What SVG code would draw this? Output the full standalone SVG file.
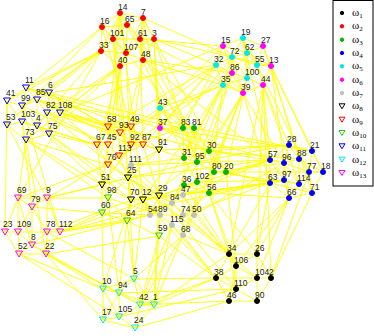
<svg xmlns="http://www.w3.org/2000/svg" xmlns:xlink="http://www.w3.org/1999/xlink" width="374" height="336" viewBox="0 0 374 336">
<style>
.e{fill:none;stroke:#ffff00;stroke-width:0.9}
text{font-family:"Liberation Sans",Arial,sans-serif;font-size:8.5px;fill:#222}
.c1{fill:#000;stroke:#000}
.c2{fill:#ff0000;stroke:#ff0000}
.c3{fill:#00b400;stroke:#00b400}
.c4{fill:#0000ff;stroke:#0000ff}
.c5{fill:#00e8e8;stroke:#00e8e8}
.c6{fill:#ff00ff;stroke:#ff00ff}
.c7{fill:#c0c0c0;stroke:#c0c0c0}
.t8{fill:none;stroke:#000;stroke-width:1}
.t9{fill:none;stroke:#ff0000;stroke-width:1}
.t10{fill:none;stroke:#22c822;stroke-width:1}
.t11{fill:none;stroke:#0000ff;stroke-width:1}
.t12{fill:none;stroke:#00e8e8;stroke-width:1}
.t13{fill:none;stroke:#ff00ff;stroke-width:1}
.lg{font-family:"Liberation Serif","Times New Roman",serif;font-size:11px;fill:#000}
.sub{font-size:7px}
</style>
<defs>
<path id="tri" d="M-3.5,-3L3.5,-3L0,3Z"/>
<path id="tris" d="M-3,-2.5L3,-2.5L0,2.5Z"/>
</defs>
<rect width="374" height="336" fill="#fff"/>
<g id="connectors">
<path class="e" d="M120 13L143 18M120 13L127 25M120 13L102 27M120 13L113 39M120 13L140 39M120 13L126 53M120 13L120 66M143 18L127 25M143 18L140 39M143 18L154 39M143 18L143 60M127 25L113 39M127 25L140 39M127 25L126 53M102 27L113 39M102 27L101 51M102 27L126 53M113 39L101 51M113 39L126 53M113 39L120 66M113 39L140 39M140 39L154 39M140 39L126 53M140 39L143 60M154 39L143 60M154 39L126 53M101 51L120 66M101 51L126 53M126 53L120 66M126 53L143 60M143 60L120 66M102 27L127 25M120 13L101 51M143 18L126 53
M102 27L26 88M101 51L26 88M101 51L49 93M113 39L37 100M120 66L60 113M120 66L47 113M101 51L22 106M120 66L49 134M120 13L108 127M102 27L131 127M113 39L120 133M101 51L7 101M120 66L108 145M126 53L97 145M143 60L131 145M154 39L159 150M140 39L143 145M143 18L160 108M154 39L216 65M143 60L223 85M140 39L223 46M143 18L232 57M143 60L232 73M154 39L160 128M127 25L183 128M120 66L128 178M126 53L209 151M143 60L184 158M120 66L102 185M113 39L131 200M120 13L143 200M154 39L197 162M140 39L214 172M102 27L7 125M101 51L37 126M120 66L26 140M143 60L119 156M126 53L131 165M143 18L226 172M154 39L271 66M140 39L243 93M143 60L270 160M120 66L108 198M101 51L18 198
M223 46L243 38M223 46L232 57M223 46L216 65M223 46L247 53M223 46L232 73M243 38L247 53M243 38L232 57M243 38L263 46M243 38L257 65M247 53L232 57M247 53L263 46M247 53L257 65M247 53L247 78M247 53L271 66M232 57L216 65M232 57L232 73M232 57L257 65M232 57L247 78M232 57L223 85M216 65L232 73M216 65L223 85M216 65L243 93M257 65L263 46M257 65L271 66M257 65L247 78M257 65L263 85M247 78L232 73M247 78L223 85M247 78L243 93M247 78L263 85M232 73L223 85M232 73L243 93M223 85L243 93M263 85L271 66M263 85L243 93M263 46L271 66M243 38L247 78M247 53L232 73M232 57L243 93
M271 66L323 172M271 66L312 151M263 85L271 278M263 85L289 145M263 85L270 160M243 93L270 183M243 93L284 163M271 66L299 159M263 46L312 193M257 65L309 172M263 85L229 254M223 85L209 193M216 65L183 128M223 85L184 158M243 93L209 151M232 73L197 162M247 78L214 172M216 65L160 108M223 85L160 108M216 65L160 128M223 46L160 108M232 57L159 150M216 65L108 127M223 85L131 127M232 73L197 182M243 93L184 185M247 78L226 172M263 85L257 254M216 65L143 145M223 85L159 196M243 93L183 235M271 66L289 198M263 85L299 184M223 85L172 203M216 65L49 93M223 46L60 113M223 85L143 200M243 93L194 215M232 73L131 145M243 38L270 160
M160 108L183 128M160 108L194 128M160 128L183 128M160 108L160 128M160 128L159 150M160 108L131 127M160 128L209 151M160 108L197 162M160 128L284 163M160 108L102 185
M183 128L194 128M183 128L184 158M194 128L209 151M194 128L197 162M209 151L197 162M209 151L214 172M209 151L226 172M184 158L197 162M184 158L197 182M184 158L184 185M197 162L197 182M197 162L214 172M214 172L226 172M214 172L197 182M214 172L209 193M197 182L184 185M197 182L209 193M184 185L209 193M226 172L209 193M183 128L197 162M194 128L184 158M209 151L184 158
M226 172L270 160M226 172L270 183M214 172L284 163M209 151L289 145M209 193L289 198M209 193L229 254M197 182L183 195M184 185L172 203M184 158L159 150M197 162L128 178M197 182L159 196M209 193L183 215M226 172L312 193M209 151L299 159M184 158L131 165M214 172L299 184M197 162L143 200M184 185L183 195M209 193L257 254M194 128L312 151M183 128L131 145M226 172L323 172M209 151L270 160
M289 145L312 151M289 145L284 163M289 145L299 159M289 145L270 160M312 151L299 159M312 151L323 172M312 151L309 172M270 160L284 163M270 160L270 183M270 160L284 180M284 163L299 159M284 163L284 180M284 163L309 172M299 159L309 172M299 159L323 172M299 159L299 184M323 172L309 172M323 172L312 193M309 172L299 184M309 172L312 193M270 183L284 180M270 183L289 198M284 180L299 184M284 180L289 198M299 184L312 193M299 184L289 198M312 193L289 198M284 163L299 184M270 183L284 163
M270 183L229 254M289 198L257 254M289 198L229 254M270 160L159 196M270 183L209 193M289 145L197 162M284 180L197 182M312 193L271 278M289 198L236 266M270 160L183 195M270 183L183 215M284 163L194 215M284 180L172 203M289 145L159 150M270 160L128 178M270 183L143 200M312 151L160 128M289 198L257 278M270 160L131 165M270 183L131 200M284 180L183 195
M229 254L257 254M229 254L236 266M229 254L216 278M229 254L236 289M257 254L236 266M257 254L257 278M257 254L271 278M236 266L216 278M236 266L257 278M236 266L236 289M216 278L236 289M216 278L229 301M257 278L271 278M257 278L236 289M257 278L257 301M271 278L257 301M236 289L229 301M236 289L257 301M229 301L257 301M229 254L257 278M236 266L229 301M216 278L257 278
M229 254L172 203M229 254L183 235M216 278L172 225M216 278L159 236M236 266L183 195M229 254L183 215M216 278L154 305M229 301L140 305M216 278L134 279M236 289L159 196M236 266L209 193M229 254L184 185M257 254L270 183M216 278L183 235M229 301L135 328M236 289L119 293M229 254L194 215M236 266L226 172M216 278L143 200M229 254L128 178M271 278L309 172
M172 203L183 195M172 203L150 215M172 203L160 215M172 203L183 215M172 203L172 225M183 195L183 215M183 195L194 215M150 215L160 215M160 215L172 225M183 215L194 215M183 215L183 235M172 225L183 235M194 215L183 235M160 215L183 215M131 165L172 203M131 165L150 215
M131 165L128 178M131 165L159 150M172 203L159 196M150 215L143 200M160 215L131 200M172 225L159 236M183 235L134 279M150 215L127 221M160 215L159 196M194 215L197 182M172 225L154 305M183 235L140 305M172 203L128 178M150 215L102 213M160 215L108 198
M159 150L128 178M128 178L102 185M128 178L131 200M128 178L143 200M131 200L143 200M143 200L159 196M159 196L159 150M102 185L131 200M102 185L108 198M128 178L159 196
M102 185L97 145M102 185L26 140M131 200L127 221M159 196L150 215M143 200L160 215M159 150L131 127M128 178L119 156M102 185L47 198M131 200L47 232M143 200L134 279M159 196L154 305M102 185L102 213M159 150L143 145M128 178L108 165
M108 127L120 133M108 127L97 145M108 127L108 145M131 127L120 133M131 127L131 145M131 127L143 145M120 133L108 145M120 133L131 145M120 133L119 156M97 145L108 145M97 145L108 165M108 145L119 156M108 145L108 165M131 145L143 145M131 145L119 156M119 156L108 165M108 127L131 127M143 145L119 156
M108 127L60 113M97 145L49 134M108 145L47 113M108 165L26 140M97 145L37 126M120 133L49 93M131 127L26 88M108 165L18 198M119 156L47 198M131 145L102 185M143 145L159 196M108 145L22 106M97 145L22 122M108 127L37 100
M108 198L102 213M108 198L127 221M102 213L127 221M127 221L159 236M108 198L128 178M127 221L143 200M159 236L160 215M102 213L32 207M108 198L47 198M127 221L134 279M159 236L140 305M102 213L60 232M127 221L119 293
M26 88L49 93M26 88L7 101M26 88L22 106M26 88L37 100M49 93L37 100M49 93L47 113M49 93L60 113M7 101L22 106M7 101L7 125M22 106L37 100M22 106L22 122M37 100L47 113M37 100L37 126M47 113L60 113M47 113L37 126M47 113L49 134M60 113L49 134M7 125L22 122M7 125L26 140M22 122L37 126M22 122L26 140M37 126L26 140M37 126L49 134M26 140L49 134M7 101L22 122M22 106L37 126
M60 113L131 127M60 113L159 150M47 113L120 133M49 93L108 127M60 113L209 151M37 100L183 128M26 88L160 128M37 126L102 185M26 140L18 198M7 125L47 198M49 134L143 200M26 140L108 198M22 122L32 207M60 113L159 196M49 93L194 128M49 134L131 200M7 101L5 232M47 113L128 178M37 100L131 145M22 106L60 232M26 140L46 254
M18 198L47 198M18 198L32 207M18 198L18 232M18 198L5 232M47 198L32 207M47 198L47 232M47 198L60 232M32 207L18 232M32 207L32 245M32 207L47 232M5 232L18 232M5 232L19 254M18 232L19 254M18 232L32 245M47 232L60 232M47 232L32 245M47 232L46 254M60 232L46 254M32 245L19 254M32 245L46 254M19 254L46 254M18 232L47 232M18 198L32 245
M46 254L103 289M46 254L159 236M60 232L172 203M32 245L119 293M19 254L103 289M60 232L127 221M47 232L134 279M46 254L103 320M60 232L150 215M47 198L128 178M32 245L127 221M60 232L159 196M46 254L140 305M19 254L119 317
M134 279L103 289M134 279L119 293M134 279L140 305M134 279L154 305M103 289L119 293M103 289L103 320M103 289L119 317M119 293L140 305M119 293L119 317M119 293L103 320M140 305L154 305M140 305L119 317M140 305L135 328M103 320L119 317M119 317L135 328M154 305L135 328M103 320L135 328M119 293L154 305
M134 279L128 178M103 289L102 213M154 305L229 254M140 305L216 278M119 317L236 289M154 305L159 236M119 293L108 198M103 289L131 200M140 305L172 225M154 305L183 235"/>
</g>
<g id="nodes">
<g id="n14"><circle class="c2" cx="120" cy="13" r="2.5"/><text x="118" y="9.5">14</text></g>
<g id="n7"><circle class="c2" cx="143" cy="18" r="2.5"/><text x="141" y="14.5">7</text></g>
<g id="n65"><circle class="c2" cx="127" cy="25" r="2.5"/><text x="125" y="21.5">65</text></g>
<g id="n16"><circle class="c2" cx="102" cy="27" r="2.5"/><text x="100" y="23.5">16</text></g>
<g id="n101"><circle class="c2" cx="113" cy="39" r="2.5"/><text x="110" y="35.5">101</text></g>
<g id="n61"><circle class="c2" cx="140" cy="39" r="2.5"/><text x="138" y="35.5">61</text></g>
<g id="n3"><circle class="c2" cx="154" cy="39" r="2.5"/><text x="152" y="35.5">3</text></g>
<g id="n33"><circle class="c2" cx="101" cy="51" r="2.5"/><text x="99" y="47.5">33</text></g>
<g id="n107"><circle class="c2" cx="126" cy="53" r="2.5"/><text x="124" y="49.5">107</text></g>
<g id="n48"><circle class="c2" cx="143" cy="60" r="2.5"/><text x="141" y="56.5">48</text></g>
<g id="n40"><circle class="c2" cx="120" cy="66" r="2.5"/><text x="118" y="62.5">40</text></g>
<g id="n43"><circle class="c5" cx="160" cy="108" r="2.5"/><text x="158" y="104.5">43</text></g>
<g id="n19"><circle class="c5" cx="243" cy="38" r="2.5"/><text x="241" y="34.5">19</text></g>
<g id="n62"><circle class="c5" cx="247" cy="53" r="2.5"/><text x="245" y="49.5">62</text></g>
<g id="n72"><circle class="c5" cx="232" cy="57" r="2.5"/><text x="230" y="53.5">72</text></g>
<g id="n32"><circle class="c5" cx="216" cy="65" r="2.5"/><text x="214" y="61.5">32</text></g>
<g id="n55"><circle class="c5" cx="257" cy="65" r="2.5"/><text x="255" y="61.5">55</text></g>
<g id="n100"><circle class="c5" cx="247" cy="78" r="2.5"/><text x="245" y="74.5">100</text></g>
<g id="n35"><circle class="c5" cx="223" cy="85" r="2.5"/><text x="221" y="81.5">35</text></g>
<g id="n15"><circle class="c6" cx="223" cy="46" r="2.5"/><text x="221" y="42.5">15</text></g>
<g id="n27"><circle class="c6" cx="263" cy="46" r="2.5"/><text x="261" y="42.5">27</text></g>
<g id="n13"><circle class="c6" cx="271" cy="66" r="2.5"/><text x="269" y="62.5">13</text></g>
<g id="n86"><circle class="c6" cx="232" cy="73" r="2.5"/><text x="230" y="69.5">86</text></g>
<g id="n44"><circle class="c6" cx="263" cy="85" r="2.5"/><text x="261" y="81.5">44</text></g>
<g id="n39"><circle class="c6" cx="243" cy="93" r="2.5"/><text x="241" y="89.5">39</text></g>
<g id="n37"><circle class="c6" cx="160" cy="128" r="2.5"/><text x="158" y="124.5">37</text></g>
<g id="n83"><circle class="c3" cx="183" cy="128" r="2.5"/><text x="181" y="124.5">83</text></g>
<g id="n81"><circle class="c3" cx="194" cy="128" r="2.5"/><text x="192" y="124.5">81</text></g>
<g id="n30"><circle class="c3" cx="209" cy="151" r="2.5"/><text x="207" y="147.5">30</text></g>
<g id="n31"><circle class="c3" cx="184" cy="158" r="2.5"/><text x="182" y="154.5">31</text></g>
<g id="n95"><circle class="c3" cx="197" cy="162" r="2.5"/><text x="195" y="158.5">95</text></g>
<g id="n80"><circle class="c3" cx="214" cy="172" r="2.5"/><text x="212" y="168.5">80</text></g>
<g id="n20"><circle class="c3" cx="226" cy="172" r="2.5"/><text x="224" y="168.5">20</text></g>
<g id="n102"><circle class="c3" cx="197" cy="182" r="2.5"/><text x="195" y="178.5">102</text></g>
<g id="n36"><circle class="c3" cx="184" cy="185" r="2.5"/><text x="182" y="181.5">36</text></g>
<g id="n56"><circle class="c3" cx="209" cy="193" r="2.5"/><text x="207" y="189.5">56</text></g>
<g id="n111"><circle class="c7" cx="131" cy="165" r="2.5"/><text x="129" y="161.5">111</text></g>
<g id="n84"><circle class="c7" cx="172" cy="203" r="2.5"/><text x="170" y="199.5">84</text></g>
<g id="n47"><circle class="c7" cx="183" cy="195" r="2.5"/><text x="181" y="191.5">47</text></g>
<g id="n54"><circle class="c7" cx="150" cy="215" r="2.5"/><text x="148" y="211.5">54</text></g>
<g id="n89"><circle class="c7" cx="160" cy="215" r="2.5"/><text x="158" y="211.5">89</text></g>
<g id="n74"><circle class="c7" cx="183" cy="215" r="2.5"/><text x="181" y="211.5">74</text></g>
<g id="n50"><circle class="c7" cx="194" cy="215" r="2.5"/><text x="192" y="211.5">50</text></g>
<g id="n115"><circle class="c7" cx="172" cy="225" r="2.5"/><text x="170" y="221.5">115</text></g>
<g id="n68"><circle class="c7" cx="183" cy="235" r="2.5"/><text x="181" y="231.5">68</text></g>
<g id="n28"><circle class="c4" cx="289" cy="145" r="2.5"/><text x="287" y="141.5">28</text></g>
<g id="n21"><circle class="c4" cx="312" cy="151" r="2.5"/><text x="310" y="147.5">21</text></g>
<g id="n57"><circle class="c4" cx="270" cy="160" r="2.5"/><text x="268" y="156.5">57</text></g>
<g id="n96"><circle class="c4" cx="284" cy="163" r="2.5"/><text x="282" y="159.5">96</text></g>
<g id="n88"><circle class="c4" cx="299" cy="159" r="2.5"/><text x="297" y="155.5">88</text></g>
<g id="n18"><circle class="c4" cx="323" cy="172" r="2.5"/><text x="321" y="168.5">18</text></g>
<g id="n77"><circle class="c4" cx="309" cy="172" r="2.5"/><text x="307" y="168.5">77</text></g>
<g id="n63"><circle class="c4" cx="270" cy="183" r="2.5"/><text x="268" y="179.5">63</text></g>
<g id="n97"><circle class="c4" cx="284" cy="180" r="2.5"/><text x="282" y="176.5">97</text></g>
<g id="n114"><circle class="c4" cx="299" cy="184" r="2.5"/><text x="297" y="180.5">114</text></g>
<g id="n71"><circle class="c4" cx="312" cy="193" r="2.5"/><text x="310" y="189.5">71</text></g>
<g id="n66"><circle class="c4" cx="289" cy="198" r="2.5"/><text x="287" y="194.5">66</text></g>
<g id="n34"><circle class="c1" cx="229" cy="254" r="2.5"/><text x="227" y="250.5">34</text></g>
<g id="n26"><circle class="c1" cx="257" cy="254" r="2.5"/><text x="255" y="250.5">26</text></g>
<g id="n106"><circle class="c1" cx="236" cy="266" r="2.5"/><text x="234" y="262.5">106</text></g>
<g id="n38"><circle class="c1" cx="216" cy="278" r="2.5"/><text x="214" y="274.5">38</text></g>
<g id="n104"><circle class="c1" cx="257" cy="278" r="2.5"/><text x="255" y="274.5">104</text></g>
<g id="n2"><circle class="c1" cx="271" cy="278" r="2.5"/><text x="269" y="274.5">2</text></g>
<g id="n110"><circle class="c1" cx="236" cy="289" r="2.5"/><text x="234" y="285.5">110</text></g>
<g id="n46"><circle class="c1" cx="229" cy="301" r="2.5"/><text x="227" y="297.5">46</text></g>
<g id="n90"><circle class="c1" cx="257" cy="301" r="2.5"/><text x="255" y="297.5">90</text></g>
<g id="n91"><use xlink:href="#tri" x="159" y="150" class="t8"/><text x="158" y="144.5">91</text></g>
<g id="n25"><use xlink:href="#tri" x="128" y="178" class="t8"/><text x="127" y="172.5">25</text></g>
<g id="n51"><use xlink:href="#tri" x="102" y="185" class="t8"/><text x="101" y="179.5">51</text></g>
<g id="n70"><use xlink:href="#tri" x="131" y="200" class="t8"/><text x="130" y="194.5">70</text></g>
<g id="n12"><use xlink:href="#tri" x="143" y="200" class="t8"/><text x="142" y="194.5">12</text></g>
<g id="n29"><use xlink:href="#tri" x="159" y="196" class="t8"/><text x="158" y="190.5">29</text></g>
<g id="n58"><use xlink:href="#tri" x="108" y="127" class="t9"/><text x="107" y="121.5">58</text></g>
<g id="n49"><use xlink:href="#tri" x="131" y="127" class="t9"/><text x="130" y="121.5">49</text></g>
<g id="n93"><use xlink:href="#tri" x="120" y="133" class="t9"/><text x="119" y="127.5">93</text></g>
<g id="n67"><use xlink:href="#tri" x="97" y="145" class="t9"/><text x="96" y="139.5">67</text></g>
<g id="n45"><use xlink:href="#tri" x="108" y="145" class="t9"/><text x="107" y="139.5">45</text></g>
<g id="n92"><use xlink:href="#tri" x="131" y="145" class="t9"/><text x="130" y="139.5">92</text></g>
<g id="n87"><use xlink:href="#tri" x="143" y="145" class="t9"/><text x="142" y="139.5">87</text></g>
<g id="n113"><use xlink:href="#tri" x="119" y="156" class="t9"/><text x="118" y="150.5">113</text></g>
<g id="n76"><use xlink:href="#tri" x="108" y="165" class="t9"/><text x="107" y="159.5">76</text></g>
<g id="n98"><use xlink:href="#tri" x="108" y="198" class="t10"/><text x="107" y="192.5">98</text></g>
<g id="n60"><use xlink:href="#tri" x="102" y="213" class="t10"/><text x="101" y="207.5">60</text></g>
<g id="n64"><use xlink:href="#tri" x="127" y="221" class="t10"/><text x="126" y="215.5">64</text></g>
<g id="n59"><use xlink:href="#tri" x="159" y="236" class="t10"/><text x="158" y="230.5">59</text></g>
<g id="n11"><use xlink:href="#tri" x="26" y="88" class="t11"/><text x="25" y="82.5">11</text></g>
<g id="n6"><use xlink:href="#tri" x="49" y="93" class="t11"/><text x="48" y="87.5">6</text></g>
<g id="n41"><use xlink:href="#tri" x="7" y="101" class="t11"/><text x="6" y="95.5">41</text></g>
<g id="n99"><use xlink:href="#tri" x="22" y="106" class="t11"/><text x="21" y="100.5">99</text></g>
<g id="n85"><use xlink:href="#tri" x="37" y="100" class="t11"/><text x="36" y="94.5">85</text></g>
<g id="n82"><use xlink:href="#tri" x="47" y="113" class="t11"/><text x="46" y="107.5">82</text></g>
<g id="n108"><use xlink:href="#tri" x="60" y="113" class="t11"/><text x="58" y="107.5">108</text></g>
<g id="n53"><use xlink:href="#tri" x="7" y="125" class="t11"/><text x="6" y="119.5">53</text></g>
<g id="n103"><use xlink:href="#tri" x="22" y="122" class="t11"/><text x="21" y="116.5">103</text></g>
<g id="n4"><use xlink:href="#tri" x="37" y="126" class="t11"/><text x="36" y="120.5">4</text></g>
<g id="n73"><use xlink:href="#tri" x="26" y="140" class="t11"/><text x="25" y="134.5">73</text></g>
<g id="n75"><use xlink:href="#tri" x="49" y="134" class="t11"/><text x="48" y="128.5">75</text></g>
<g id="n5"><use xlink:href="#tri" x="134" y="279" class="t12"/><text x="133" y="273.5">5</text></g>
<g id="n10"><use xlink:href="#tri" x="103" y="289" class="t12"/><text x="102" y="283.5">10</text></g>
<g id="n94"><use xlink:href="#tri" x="119" y="293" class="t12"/><text x="118" y="287.5">94</text></g>
<g id="n42"><use xlink:href="#tri" x="140" y="305" class="t12"/><text x="139" y="299.5">42</text></g>
<g id="n1"><use xlink:href="#tri" x="154" y="305" class="t12"/><text x="153" y="299.5">1</text></g>
<g id="n17"><use xlink:href="#tri" x="103" y="320" class="t12"/><text x="102" y="314.5">17</text></g>
<g id="n105"><use xlink:href="#tri" x="119" y="317" class="t12"/><text x="118" y="311.5">105</text></g>
<g id="n24"><use xlink:href="#tri" x="135" y="328" class="t12"/><text x="134" y="322.5">24</text></g>
<g id="n69"><use xlink:href="#tri" x="18" y="198" class="t13"/><text x="17" y="192.5">69</text></g>
<g id="n9"><use xlink:href="#tri" x="47" y="198" class="t13"/><text x="46" y="192.5">9</text></g>
<g id="n79"><use xlink:href="#tri" x="32" y="207" class="t13"/><text x="31" y="201.5">79</text></g>
<g id="n23"><use xlink:href="#tri" x="5" y="232" class="t13"/><text x="3" y="226.5">23</text></g>
<g id="n109"><use xlink:href="#tri" x="18" y="232" class="t13"/><text x="17" y="226.5">109</text></g>
<g id="n78"><use xlink:href="#tri" x="47" y="232" class="t13"/><text x="46" y="226.5">78</text></g>
<g id="n112"><use xlink:href="#tri" x="60" y="232" class="t13"/><text x="59" y="226.5">112</text></g>
<g id="n8"><use xlink:href="#tri" x="32" y="245" class="t13"/><text x="31" y="239.5">8</text></g>
<g id="n52"><use xlink:href="#tri" x="19" y="254" class="t13"/><text x="18" y="248.5">52</text></g>
<g id="n22"><use xlink:href="#tri" x="46" y="254" class="t13"/><text x="45" y="248.5">22</text></g>
</g>
<g id="legend">
<rect x="333" y="0.5" width="40" height="185.5" fill="#fff" stroke="#000" stroke-width="1"/>
<circle class="c1" cx="342" cy="13" r="1.7"/><text class="lg" x="352" y="16">ω<tspan class="sub" dy="2">1</tspan></text>
<circle class="c2" cx="342" cy="26.3" r="1.7"/><text class="lg" x="352" y="29.3">ω<tspan class="sub" dy="2">2</tspan></text>
<circle class="c3" cx="342" cy="39.7" r="1.7"/><text class="lg" x="352" y="42.7">ω<tspan class="sub" dy="2">3</tspan></text>
<circle class="c4" cx="342" cy="53" r="1.7"/><text class="lg" x="352" y="56">ω<tspan class="sub" dy="2">4</tspan></text>
<circle class="c5" cx="342" cy="66.3" r="1.7"/><text class="lg" x="352" y="69.3">ω<tspan class="sub" dy="2">5</tspan></text>
<circle class="c6" cx="342" cy="79.7" r="1.7"/><text class="lg" x="352" y="82.7">ω<tspan class="sub" dy="2">6</tspan></text>
<circle class="c7" cx="342" cy="93" r="1.7"/><text class="lg" x="352" y="96">ω<tspan class="sub" dy="2">7</tspan></text>
<use xlink:href="#tris" x="342" y="106.3" class="t8"/><text class="lg" x="352" y="109.3">ω<tspan class="sub" dy="2">8</tspan></text>
<use xlink:href="#tris" x="342" y="119.7" class="t9"/><text class="lg" x="352" y="122.7">ω<tspan class="sub" dy="2">9</tspan></text>
<use xlink:href="#tris" x="342" y="133" class="t10"/><text class="lg" x="352" y="136">ω<tspan class="sub" dy="2">10</tspan></text>
<use xlink:href="#tris" x="342" y="146.3" class="t11"/><text class="lg" x="352" y="149.3">ω<tspan class="sub" dy="2">11</tspan></text>
<use xlink:href="#tris" x="342" y="159.7" class="t12"/><text class="lg" x="352" y="162.7">ω<tspan class="sub" dy="2">12</tspan></text>
<use xlink:href="#tris" x="342" y="173" class="t13"/><text class="lg" x="352" y="176">ω<tspan class="sub" dy="2">13</tspan></text>
</g>
</svg>
